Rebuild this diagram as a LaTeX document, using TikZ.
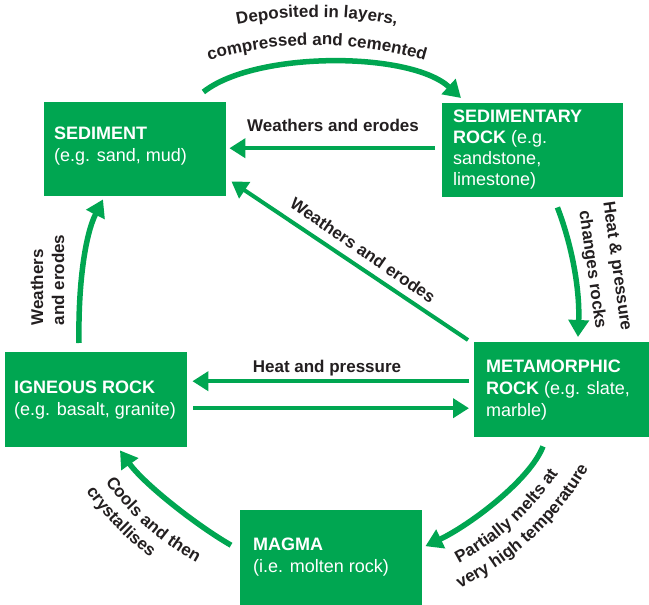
\documentclass[tikz,border=0pt]{standalone}
\usepackage{fontspec}
\setmainfont{Liberation Sans}
\usetikzlibrary{arrows.meta,decorations.text}
\definecolor{cgreen}{HTML}{00A651}
\definecolor{ctext}{HTML}{231F20}
\newcommand\lblfont{\fontsize{17}{21}\selectfont\bfseries}
\begin{document}
\begin{tikzpicture}[x=1pt,y=-1pt,
  box/.style={fill=cgreen, draw=none, inner sep=0, anchor=north west},
  boxtext/.style={text=white, font=\fontsize{18}{22}\selectfont, align=left, inner sep=0, anchor=north west},
  lbl/.style={text=ctext, font=\lblfont, inner sep=0},
  flow/.style={draw=cgreen, line width=4.3pt, -{Triangle[width=19pt,length=16pt]}},
  curveflow/.style={draw=cgreen, line width=5.5pt, -{Triangle[width=20pt,length=17pt]}},
  along/.style={decorate, decoration={text along path, text align=center, text color=ctext, text={|\lblfont|#1}}}
]
\useasboundingbox (0,0) rectangle (649,605);

% boxes
\node[box, minimum width=182pt, minimum height=94pt] (sed) at (44,102) {};
\node[box, minimum width=181pt, minimum height=94pt] (sedr) at (442,103) {};
\node[box, minimum width=182pt, minimum height=95pt] (ign) at (5,352) {};
\node[box, minimum width=176pt, minimum height=95pt] (met) at (474,342) {};
\node[box, minimum width=182pt, minimum height=96pt] (mag) at (240,510) {};

% box texts
\node[boxtext] (sedt) at (54,127) {\textbf{SEDIMENT}\\(e.g. sand, mud)};
\node[boxtext, font=\fontsize{18}{21}\selectfont] (sedrt) at (453,110) {\textbf{SEDIMENTARY}\\\textbf{ROCK} (e.g.\\sandstone,\\limestone)};
\node[boxtext] (ignt) at (14,381) {\textbf{IGNEOUS ROCK}\\(e.g. basalt, granite)};
\node[boxtext] (mett) at (486,360) {\textbf{METAMORPHIC}\\\textbf{ROCK} (e.g. slate,\\marble)};
\node[boxtext] (magt) at (253,538) {\textbf{MAGMA}\\(i.e. molten rock)};

% connectors
\draw[curveflow] ([xshift=-23pt,yshift=10pt]sed.north east) .. controls (255,51) and (410,51) .. ([xshift=19pt,yshift=5pt]sedr.north west);
\draw[flow] ([xshift=-7pt,yshift=2pt]sedr.west) -- ([xshift=3pt,yshift=1pt]sed.east);
\draw[curveflow] ([xshift=-66pt,yshift=-10pt]sedr.south east) .. controls (572,245) and (580,290) .. ([xshift=104pt,yshift=5pt]met.north west);
\draw[draw=cgreen, line width=4pt, -{Triangle[width=19pt,length=16pt]}] ([xshift=-6pt,yshift=2pt]met.north west) -- ([xshift=5pt,yshift=15pt]sed.south east);
\draw[curveflow] ([xshift=74pt,yshift=9pt]ign.north west) .. controls (78,285) and (85,235) .. ([xshift=59pt,yshift=-3pt]sed.south west);
\draw[flow] ([xshift=-5pt,yshift=8.5pt]met.west) -- ([xshift=5pt,yshift=18.5pt]ign.east);
\draw[flow] ([xshift=6pt,yshift=-8.5pt]ign.east) -- ([xshift=-5pt,yshift=-18.5pt]met.west);
\draw[curveflow] ([xshift=69pt,yshift=-9pt]met.south west) .. controls (530,480) and (470,525) .. ([xshift=3pt,yshift=12pt]mag.east);
\draw[curveflow] ([xshift=-9pt,yshift=13pt]mag.west) .. controls (196,525) and (144,484) .. ([xshift=115pt,yshift=-3pt]ign.south west);

% straight labels
\node[lbl] (lw1) at (333,125) {Weathers and erodes};
\node[lbl] (lhp) at (327,368) {Heat and pressure};
\node[lbl, rotate=-34.5] (lw2) at (363,250) {Weathers and erodes};
\node[lbl, rotate=90, align=left] (lw3) at (47.5,280) {Weathers\\and erodes};
\node[lbl, rotate=-82, align=center, font=\fontsize{17}{25}\selectfont\bfseries] (lhc) at (604,268) {Heat \& pressure\\changes rocks};

% curved labels
\path[along={Deposited in layers,}] (317,429) ++(255:412) arc[start angle=255, end angle=285, radius=412];
\path[along={compressed and cemented}] (317,429) ++(250:384) arc[start angle=250, end angle=290, radius=384];
\path[along={Partially melts at}] (330,320) ++(66:275) arc[start angle=66, end angle=30, radius=275];
\path[along={very high temperature}] (330,320) ++(66:298) arc[start angle=66, end angle=28, radius=298];
\path[along={Cools and then}] (330,320) ++(150:277) arc[start angle=150, end angle=113, radius=277];
\path[along={crystallises}] (330,320) ++(154:298) arc[start angle=154, end angle=118, radius=298];
\end{tikzpicture}
\end{document}
